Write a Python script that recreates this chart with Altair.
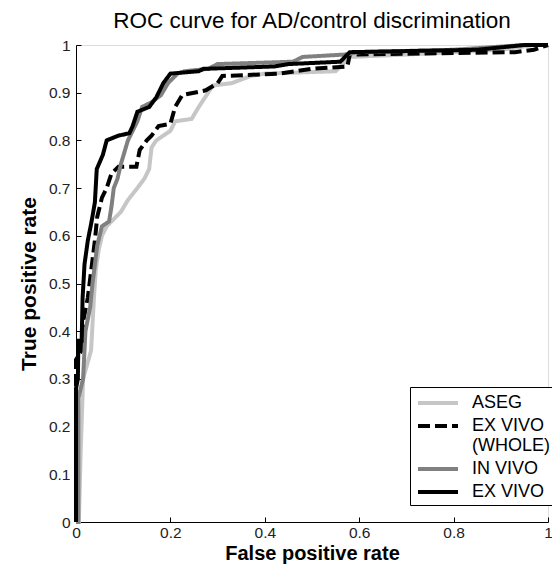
import altair as alt
import pandas as pd

series_names = ["ASEG", "EX VIVO (WHOLE)", "IN VIVO", "EX VIVO"]
series_colors = ["#c6c6c6", "#000000", "#808080", "#000000"]
series_dashes = [[1, 0], [12, 5], [1, 0], [1, 0]]

x_ticks = [0, 0.2, 0.4, 0.6, 0.8, 1]
y_ticks = [0, 0.1, 0.2, 0.3, 0.4, 0.5, 0.6, 0.7, 0.8, 0.9, 1]

aseg_fpr = [0, 0.006, 0.01, 0.015, 0.032, 0.038, 0.042, 0.048, 0.055, 0.065, 0.08, 0.095, 0.11, 0.13, 0.145,
            0.155, 0.16, 0.17, 0.2, 0.21, 0.245, 0.26, 0.28, 0.29, 0.33, 0.37, 0.40, 0.55, 0.58, 0.70, 0.90, 0.97, 1.0]
aseg_tpr = [0, 0, 0.15, 0.30, 0.36, 0.47, 0.53, 0.57, 0.60, 0.62, 0.635, 0.65, 0.675, 0.70, 0.72,
            0.74, 0.785, 0.80, 0.82, 0.84, 0.845, 0.87, 0.90, 0.915, 0.92, 0.935, 0.94, 0.945, 0.975, 0.98, 0.99, 1.0, 1.0]

whole_fpr = [0, 0, 0.012, 0.015, 0.025, 0.035, 0.04, 0.045, 0.055, 0.065, 0.075, 0.09, 0.128, 0.135, 0.15,
             0.16, 0.175, 0.2, 0.21, 0.225, 0.275, 0.30, 0.31, 0.43, 0.50, 0.575, 0.58, 0.93, 0.97, 1.0]
whole_tpr = [0, 0.34, 0.36, 0.42, 0.47, 0.55, 0.59, 0.64, 0.68, 0.70, 0.73, 0.745, 0.745, 0.78, 0.80,
             0.81, 0.83, 0.835, 0.87, 0.895, 0.905, 0.92, 0.935, 0.94, 0.95, 0.955, 0.98, 0.985, 0.99, 1.0]

invivo_fpr = [0, 0.005, 0.005, 0.015, 0.02, 0.03, 0.035, 0.045, 0.055, 0.07, 0.075, 0.08, 0.088, 0.095, 0.11,
              0.13, 0.14, 0.16, 0.18, 0.195, 0.215, 0.23, 0.28, 0.30, 0.46, 0.48, 0.57, 0.60, 0.80, 0.95, 1.0]
invivo_tpr = [0, 0, 0.26, 0.30, 0.40, 0.45, 0.50, 0.58, 0.62, 0.63, 0.66, 0.70, 0.72, 0.75, 0.80,
              0.84, 0.87, 0.88, 0.895, 0.92, 0.94, 0.945, 0.95, 0.96, 0.965, 0.975, 0.98, 0.985, 0.99, 1.0, 1.0]

exvivo_fpr = [0, 0, 0.004, 0.005, 0.012, 0.014, 0.018, 0.025, 0.033, 0.04, 0.044, 0.057, 0.065, 0.09, 0.113,
              0.12, 0.13, 0.155, 0.17, 0.185, 0.20, 0.26, 0.27, 0.42, 0.45, 0.56, 0.58, 0.85, 0.95, 1.0]
exvivo_tpr = [0, 0.28, 0.30, 0.38, 0.38, 0.47, 0.54, 0.59, 0.63, 0.67, 0.74, 0.77, 0.80, 0.81, 0.815,
              0.83, 0.86, 0.87, 0.89, 0.92, 0.94, 0.945, 0.95, 0.955, 0.96, 0.965, 0.985, 0.99, 1.0, 1.0]

all_series = [(series_names[0], aseg_fpr, aseg_tpr),
              (series_names[1], whole_fpr, whole_tpr),
              (series_names[2], invivo_fpr, invivo_tpr),
              (series_names[3], exvivo_fpr, exvivo_tpr)]

rows = []
for name, xs, ys in all_series:
    for i, (xv, yv) in enumerate(zip(xs, ys)):
        rows.append({"series": name, "fpr": xv, "tpr": yv, "order": i})
df = pd.DataFrame(rows)

FONT = "Liberation Sans"

legend = alt.Legend(
    title=None, orient="none", legendX=334, legendY=342,
    symbolType="M-2,0H2", symbolStrokeWidth=4, symbolSize=400,
    labelFont=FONT, labelFontSize=18, labelColor="black", labelLimit=0,
    labelExpr="datum.label == 'EX VIVO (WHOLE)' ? ['EX VIVO', '(WHOLE)'] : datum.label",
    strokeColor="black", fillColor="white", padding=4, rowPadding=2,
    symbolOffset=12, labelOffset=22,
)

color_enc = alt.Color("series:N", scale=alt.Scale(domain=series_names, range=series_colors), legend=legend)
dash_enc = alt.StrokeDash("series:N", scale=alt.Scale(domain=series_names, range=series_dashes), legend=legend)

x_axis = alt.Axis(values=x_ticks, format="~g", title="False positive rate", ticks=False,
                  domainColor="black", domainWidth=1, labelFont=FONT, labelFontSize=15.5, labelColor="#222",
                  labelPadding=3, titleFont=FONT, titleFontSize=20, titleFontWeight="bold",
                  titleColor="black", titlePadding=3, grid=False, labelFlush=False)
y_axis = alt.Axis(values=y_ticks, format="~g", title="True positive rate", ticks=False,
                  domainColor="black", domainWidth=1, labelFont=FONT, labelFontSize=15.5, labelColor="#222",
                  labelPadding=6, titleFont=FONT, titleFontSize=21, titleFontWeight="bold",
                  titleColor="black", titlePadding=9, grid=False, labelFlush=False)

x_scale = alt.Scale(domain=[0, 1], nice=False)
y_scale = alt.Scale(domain=[0, 1], nice=False)

base = alt.Chart(df)
layers = []
for name in series_names:
    layers.append(
        base.transform_filter(alt.datum.series == name).mark_line(strokeWidth=4, strokeCap="butt").encode(
            x=alt.X("fpr:Q", scale=x_scale, axis=x_axis),
            y=alt.Y("tpr:Q", scale=y_scale, axis=y_axis),
            order="order:Q",
            color=color_enc,
            strokeDash=dash_enc,
        )
    )
lines = alt.layer(*layers)

tick_layer = base.mark_point(opacity=0).encode(
    x=alt.X("fpr:Q", scale=x_scale,
            axis=alt.Axis(values=x_ticks, orient="bottom", offset=-5, tickSize=5, tickColor="black",
                          domain=False, labels=False, title=None, grid=False)),
    y=alt.Y("tpr:Q", scale=y_scale,
            axis=alt.Axis(values=y_ticks, orient="left", offset=-5, tickSize=5, tickColor="black",
                          domain=False, labels=False, title=None, grid=False)),
)

chart = alt.layer(lines, tick_layer).resolve_axis(x="independent", y="independent").properties(
    width=472, height=477,
    title=alt.TitleParams("ROC curve for AD/control discrimination", font=FONT, fontSize=22.5,
                          fontWeight="normal", color="black", offset=5, anchor="middle"),
    padding={"left": 68, "top": 37, "right": 4, "bottom": 45},
    autosize=alt.AutoSizeParams(type="none"),
).configure_view(stroke=None).configure(background="white")

chart.save("out.html", embed_options={"renderer": "svg", "actions": False})
